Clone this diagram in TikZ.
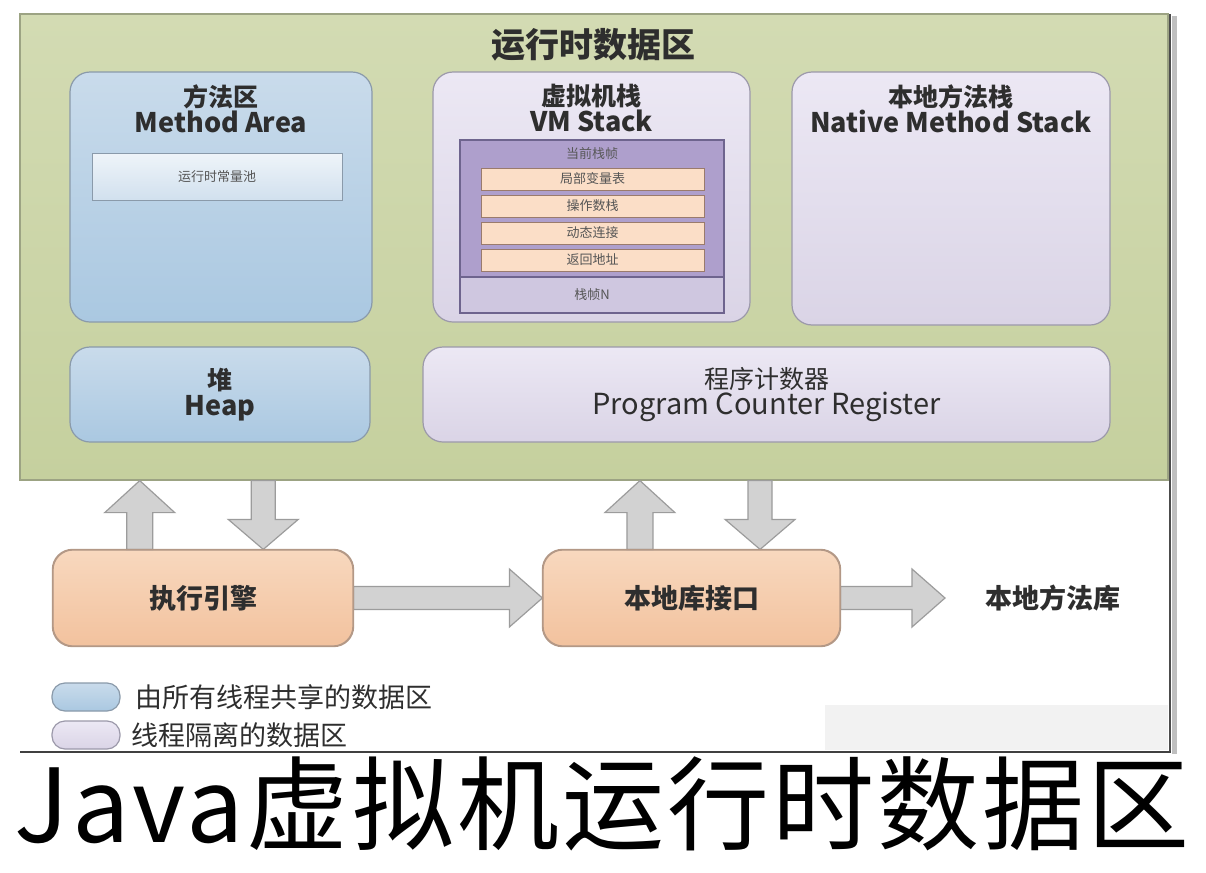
\documentclass[tikz,border=0pt]{standalone}
\usepackage{fontspec}
\setmainfont{Noto Sans CJK SC}
\usetikzlibrary{calc,fit}
\definecolor{greenT}{HTML}{D3DBB3}
\definecolor{greenB}{HTML}{C5D09E}
\definecolor{greenD}{HTML}{9CA383}
\definecolor{blueT}{HTML}{C9DBEB}
\definecolor{blueB}{HTML}{AAC8E1}
\definecolor{blueD}{HTML}{8A9AAA}
\definecolor{lavT}{HTML}{ECE8F4}
\definecolor{lavB}{HTML}{DAD4E6}
\definecolor{lavD}{HTML}{9C99AA}
\definecolor{orT}{HTML}{F8D8BE}
\definecolor{orB}{HTML}{F2C29E}
\definecolor{orD}{HTML}{B39886}
\definecolor{purF}{HTML}{AE9FCC}
\definecolor{purD}{HTML}{6E648E}
\definecolor{purL}{HTML}{CFC7E0}
\definecolor{barF}{HTML}{FBDEC7}
\definecolor{barD}{HTML}{9A7B6C}
\definecolor{arrF}{HTML}{D2D2D2}
\definecolor{arrD}{HTML}{9C9C9C}
\definecolor{txt}{HTML}{2E2E2E}
\definecolor{stxt}{HTML}{555555}
\newcommand\lat[1]{{\fontsize{13.5}{13}\selectfont #1}}
\tikzset{
  x=0.5pt, y=-0.5pt,
  area/.style={inner sep=0pt, line width=0.6pt, rounded corners=10pt},
  shared/.style={area, top color=blueT, bottom color=blueB, draw=blueD},
  priv/.style={area, top color=lavT, bottom color=lavB, draw=lavD},
  eng/.style={area, top color=orT, bottom color=orB, draw=orD},
  frame/.style={inner sep=0pt, line width=0.6pt, fill=purF, draw=purD},
  bar/.style={inner sep=0pt, line width=0.5pt, fill=barF, draw=barD},
  blk/.style={fill=arrF, draw=arrD, line width=0.6pt, line join=miter},
  hdr/.style={text=txt, align=center, font=\fontsize{12.5}{13}\selectfont\bfseries},
  hdrn/.style={text=txt, align=center, font=\fontsize{12.5}{13}\selectfont},
  small/.style={text=stxt, font=\fontsize{6.5}{7}\selectfont},
  big/.style={text=txt, font=\fontsize{13.5}{14}\selectfont\bfseries},
  legend/.style={text=txt, font=\fontsize{13.5}{14}\selectfont, anchor=west},
}
\newcommand\uparr[2]{%
  \path[blk] let \p1=(#1), \p2=(#2) in
    (\x1-6.5pt,\y1) -- (\x1-6.5pt,\y2-16pt) -- (\x1-17.5pt,\y2-16pt) -- (\x1,\y2)
    -- (\x1+17.5pt,\y2-16pt) -- (\x1+6.5pt,\y2-16pt) -- (\x1+6.5pt,\y1) -- cycle;}
\newcommand\downarr[2]{%
  \path[blk] let \p1=(#1), \p2=(#2) in
    (\x1-6pt,\y1) -- (\x1-6pt,\y2+15pt) -- (\x1-17.5pt,\y2+15pt) -- (\x1,\y2)
    -- (\x1+17.5pt,\y2+15pt) -- (\x1+6pt,\y2+15pt) -- (\x1+6pt,\y1) -- cycle;}
\newcommand\rightarr[2]{%
  \path[blk] let \p1=(#1), \p2=(#2) in
    (\x1,\y1+5.75pt) -- (\x2-16.5pt,\y1+5.75pt) -- (\x2-16.5pt,\y1+14.5pt) -- (\x2,\y1)
    -- (\x2-16.5pt,\y1-14.5pt) -- (\x2-16.5pt,\y1-5.75pt) -- (\x1,\y1-5.75pt) -- cycle;}
\begin{document}
\begin{tikzpicture}
\useasboundingbox (0,0) rectangle (1206,873);
\fill[white] (0,0) rectangle (1206,873);
% screenshot frame
\fill[white!95!black] (825,705) rectangle (1168,750);
\draw[black!25, line width=2.5pt] (1174,16) -- (1174,754);
\draw[black!70, line width=1pt] (1170,14) -- (1170,752);
\draw[black!75, line width=1pt] (20,752) -- (1171,752);
% runtime data area
\node[inner sep=0pt, line width=0.6pt, top color=greenT, bottom color=greenB, draw=greenD,
      fit={(20,14) (1168,480)}] (rda) {};
\node[text=txt, font=\fontsize{17}{18}\selectfont\bfseries] (rdat) at (593,45) {运行时数据区};
% method area
\node[shared, fit={(70,72) (372,322)}] (ma) {};
\node[hdr] (mat) at ($(ma.north)+(0,37)$) {方法区\\\lat{Method Area}};
\node[inner sep=0pt, line width=0.5pt, top color=white!70!blueT, bottom color=blueT!85!white, draw=blueD,
      fit={(92,153) (342,200)}] (rcp) {};
\node[small] (rcpt) at (rcp.center) {运行时常量池};
% VM stack
\node[priv, fit={(433,72) (750,322)}] (vms) {};
\node[hdr] (vmst) at ($(vms.north)+(0,37)$) {虚拟机栈\\\lat{VM Stack}};
\node[frame, fit={(460,140) (724,313)}] (cf) {};
\node[inner sep=0pt, line width=0.6pt, fill=purL, draw=purD, fit={(460,277) (724,313)}] (fn) {};
\node[small, text=txt!80] (cft) at (592,154) {当前栈帧};
\node[bar, fit={(481,168) (704,190)}] (b1) {};
\node[bar, fit={(481,195) (704,217)}] (b2) {};
\node[bar, fit={(481,222) (704,244)}] (b3) {};
\node[bar, fit={(481,249) (704,271)}] (b4) {};
\node[small] (b1t) at (b1.center) {局部变量表};
\node[small] (b2t) at (b2.center) {操作数栈};
\node[small] (b3t) at (b3.center) {动态连接};
\node[small] (b4t) at (b4.center) {返回地址};
\node[small] (fnt) at (fn.center) {栈帧N};
% native method stack
\node[priv, fit={(792,72) (1110,325)}] (nms) {};
\node[hdr] (nmst) at ($(nms.north)+(0,37)$) {本地方法栈\\\lat{Native Method Stack}};
% heap
\node[shared, fit={(70,347) (370,442)}] (heap) {};
\node[hdr] (heapt) at (heap.center) {堆\\\lat{Heap}};
% program counter
\node[priv, fit={(423,347) (1110,442)}] (pc) {};
\node[hdrn] (pct) at (pc.center) {程序计数器\\{\fontsize{14.5}{13}\selectfont Program Counter Register}};
% bottom boxes
\node[eng, fit={(53,550) (353,646)}] (exec) {};
\node[eng, fit={(543,550) (840,646)}] (nif) {};
\node[big] (exect) at (exec.center) {执行引擎};
\node[big] (nift) at (nif.center) {本地库接口};
\node[big, anchor=west] (lib) at (978,598) {本地方法库};
\coordinate (libin) at (945,598);
% arrows
\coordinate (e1) at ($(exec.north west)!0.29!(exec.north east)$);
\coordinate (e2) at ($(exec.north west)!0.70!(exec.north east)$);
\coordinate (n1) at ($(nif.north west)!0.327!(nif.north east)$);
\coordinate (n2) at ($(nif.north west)!0.73!(nif.north east)$);
\uparr{e1}{e1 |- rda.south}
\downarr{e2 |- rda.south}{e2}
\uparr{n1}{n1 |- rda.south}
\downarr{n2 |- rda.south}{n2}
\rightarr{exec.east}{nif.west}
\rightarr{nif.east}{libin}
% redraw box outlines over arrow shafts
\draw[orD, line width=0.6pt, rounded corners=10pt] (exec.north west) rectangle (exec.south east);
\draw[orD, line width=0.6pt, rounded corners=10pt] (nif.north west) rectangle (nif.south east);
% legend
\node[shared, rounded corners=6.5pt, fit={(52,683) (120,711)}] (lg1) {};
\node[priv, rounded corners=6.5pt, fit={(52,721) (120,749)}] (lg2) {};
\node[legend] (lg1t) at (128,697) {由所有线程共享的数据区};
\node[legend] (lg2t) at (124,735) {线程隔离的数据区};
% caption
\node[anchor=base west, inner sep=0pt, text=black, font=\fontsize{51}{51}\selectfont\addfontfeatures{LetterSpace=3}] (cap) at (14,842) {Java虚拟机运行时数据区};
\end{tikzpicture}
\end{document}
